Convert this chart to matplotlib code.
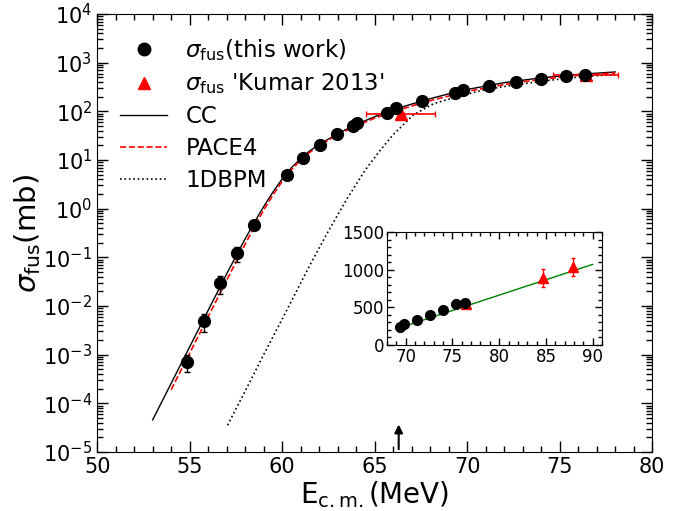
import matplotlib
matplotlib.use('Agg')
import matplotlib.pyplot as plt
from matplotlib.lines import Line2D
from matplotlib.ticker import MultipleLocator, LogLocator, NullFormatter

plt.rcParams['mathtext.fontset'] = 'dejavusans'
plt.rcParams['font.family'] = ['DejaVu Sans']

# sigma_fus, this work
e_exp = [54.85, 55.75, 56.65, 57.55, 58.5, 60.25, 61.15, 62.05, 62.95, 63.85, 64.03,
         65.65, 66.16, 67.54, 69.35, 69.8, 71.2, 72.65, 74.0, 75.35, 76.35]
sig_exp = [7.2e-4, 4.9e-3, 0.030, 0.121, 0.46, 4.9, 10.8, 20.0, 34.0, 50.0, 57.0,
           94.0, 118.0, 165.0, 235.0, 280.0, 335.0, 400.0, 465.0, 540.0, 560.0]
err_exp = [2.7e-4, 2.0e-3, 0.012, 0.040, 0.06, 0.4, 0.8, 1.5, 2.5, 3.5, 4.0,
           6.0, 8.0, 10.0, 14.0, 16.0, 18.0, 20.0, 22.0, 25.0, 26.0]

# sigma_fus, Kumar 2013
e_kum = [66.4, 76.4, 84.7, 87.9]
sig_kum = [88.0, 550.0, 890.0, 1030.0]
xerr_kum = [1.85, 1.75, 0.0, 0.0]
yerr_kum = [8.0, 65.0, 115.0, 120.0]

# CC calculation (log10 of sigma)
e_cc = [53.0, 54.0, 55.0, 56.0, 57.0, 58.0, 58.5, 59.0, 59.5, 60.0, 60.5, 61.0, 61.5,
        62.0, 63.0, 64.0, 65.0, 66.0, 67.0, 68.0, 69.0, 70.0, 72.0, 74.0, 76.0, 78.0]
lg_cc = [-4.34, -3.59, -2.84, -2.09, -1.34, -0.62, -0.28, 0.04, 0.34, 0.61, 0.84, 1.03, 1.19,
         1.32, 1.54, 1.73, 1.89, 2.03, 2.15, 2.26, 2.36, 2.45, 2.59, 2.69, 2.76, 2.81]

# PACE4
e_pace = [54.0, 55.0, 56.0, 57.0, 58.0, 58.5, 59.0, 59.5, 60.0, 60.5, 61.0, 61.5,
          62.0, 63.0, 64.0, 65.0, 66.0, 67.0, 68.0, 70.0, 72.0, 74.0, 76.0, 78.0]
lg_pace = [-3.72, -2.97, -2.22, -1.47, -0.73, -0.37, -0.03, 0.28, 0.56, 0.80, 1.00, 1.16,
           1.30, 1.52, 1.70, 1.86, 1.99, 2.11, 2.22, 2.41, 2.55, 2.66, 2.74, 2.79]

# 1DBPM
e_bpm = [57.05, 58.0, 59.0, 60.0, 61.0, 61.5, 62.5, 63.5, 64.5, 65.3, 66.0, 67.1,
         68.2, 69.45, 71.0, 72.5, 74.5, 76.1, 78.0]
lg_bpm = [-4.45, -3.75, -3.00, -2.27, -1.53, -1.16, -0.46, 0.20, 0.80, 1.20, 1.52, 1.93,
          2.16, 2.30, 2.45, 2.54, 2.64, 2.71, 2.76]

# inset linear fit
e_fit = [69.3, 90.0]
sig_fit = [225.0, 1070.0]

e_barrier = 66.3

fig = plt.figure(figsize=(6.89, 5.11), dpi=100)
ax = fig.add_axes([0.141, 0.1155, 0.8055, 0.857])

ax.plot(e_cc, [10 ** v for v in lg_cc], '-', color='black', lw=1.0, zorder=3)
ax.plot(e_pace, [10 ** v for v in lg_pace], '--', color='red', lw=1.2, zorder=3)
ax.plot(e_bpm, [10 ** v for v in lg_bpm], ':', color='black', lw=1.2, zorder=3)
ax.errorbar(e_exp, sig_exp, yerr=err_exp, fmt='o', color='black', ms=8.5, capsize=2,
            elinewidth=1, zorder=5)
ax.errorbar(e_kum[:2], sig_kum[:2], xerr=xerr_kum[:2], yerr=yerr_kum[:2], fmt='^',
            color='red', ms=9, capsize=2, elinewidth=1.2, zorder=4)

ax.annotate('', xy=(e_barrier, 4.2e-5), xytext=(e_barrier, 1e-5),
            arrowprops=dict(arrowstyle='-|>', color='black', lw=1.5, mutation_scale=12))

ax.set_yscale('log')
ax.set_xlim(50, 80)
ax.set_ylim(1e-5, 1e4)
ax.xaxis.set_major_locator(MultipleLocator(5))
ax.xaxis.set_minor_locator(MultipleLocator(1))
ax.yaxis.set_major_locator(LogLocator(base=10, numticks=20))
ax.yaxis.set_minor_locator(LogLocator(base=10, subs=range(2, 10), numticks=20))
ax.yaxis.set_minor_formatter(NullFormatter())
ax.tick_params(which='both', direction='in', top=True, right=True, labelsize=15)
ax.tick_params(which='major', length=8, width=1)
ax.tick_params(which='minor', length=4.5, width=1)
ax.set_xlabel(r'E$_{\mathrm{c.m.}}$(MeV)', fontsize=20, labelpad=2)
ax.set_ylabel(r'$\sigma_{\mathrm{fus}}$(mb)', fontsize=21, labelpad=0)

handles = [
    Line2D([], [], ls='none', marker='o', color='black', ms=9),
    Line2D([], [], ls='none', marker='^', color='red', ms=9),
    Line2D([], [], ls='-', color='black', lw=1.0),
    Line2D([], [], ls='--', color='red', lw=1.2),
    Line2D([], [], ls=':', color='black', lw=1.2),
]
labels = [r'$\sigma_{\mathrm{fus}}$(this work)', r"$\sigma_{\mathrm{fus}}$ 'Kumar 2013'",
          'CC', 'PACE4', '1DBPM']
ax.legend(handles, labels, loc='upper left', frameon=False, fontsize=16.5,
          handlelength=2.05, labelspacing=0.38, borderaxespad=0.6, handletextpad=0.8)

# inset
axi = fig.add_axes([0.5617, 0.3249, 0.312, 0.2211])
axi.plot(e_fit, sig_fit, '-', color='green', lw=1.0, zorder=2)
axi.errorbar(e_kum[1:], sig_kum[1:], yerr=yerr_kum[1:], fmt='^', color='red', ms=7,
             capsize=1.5, elinewidth=1, zorder=3)
axi.plot(e_exp[14:], sig_exp[14:], 'o', color='black', ms=7, zorder=4)
axi.set_xlim(68, 91)
axi.set_ylim(0, 1500)
axi.xaxis.set_major_locator(MultipleLocator(5))
axi.xaxis.set_minor_locator(MultipleLocator(1))
axi.yaxis.set_major_locator(MultipleLocator(500))
axi.yaxis.set_minor_locator(MultipleLocator(100))
axi.tick_params(which='both', direction='in', top=True, right=True, labelsize=12, pad=2)
axi.tick_params(which='major', length=5, width=1)
axi.tick_params(which='minor', length=3, width=1)

fig.savefig('out.png', dpi=100)
